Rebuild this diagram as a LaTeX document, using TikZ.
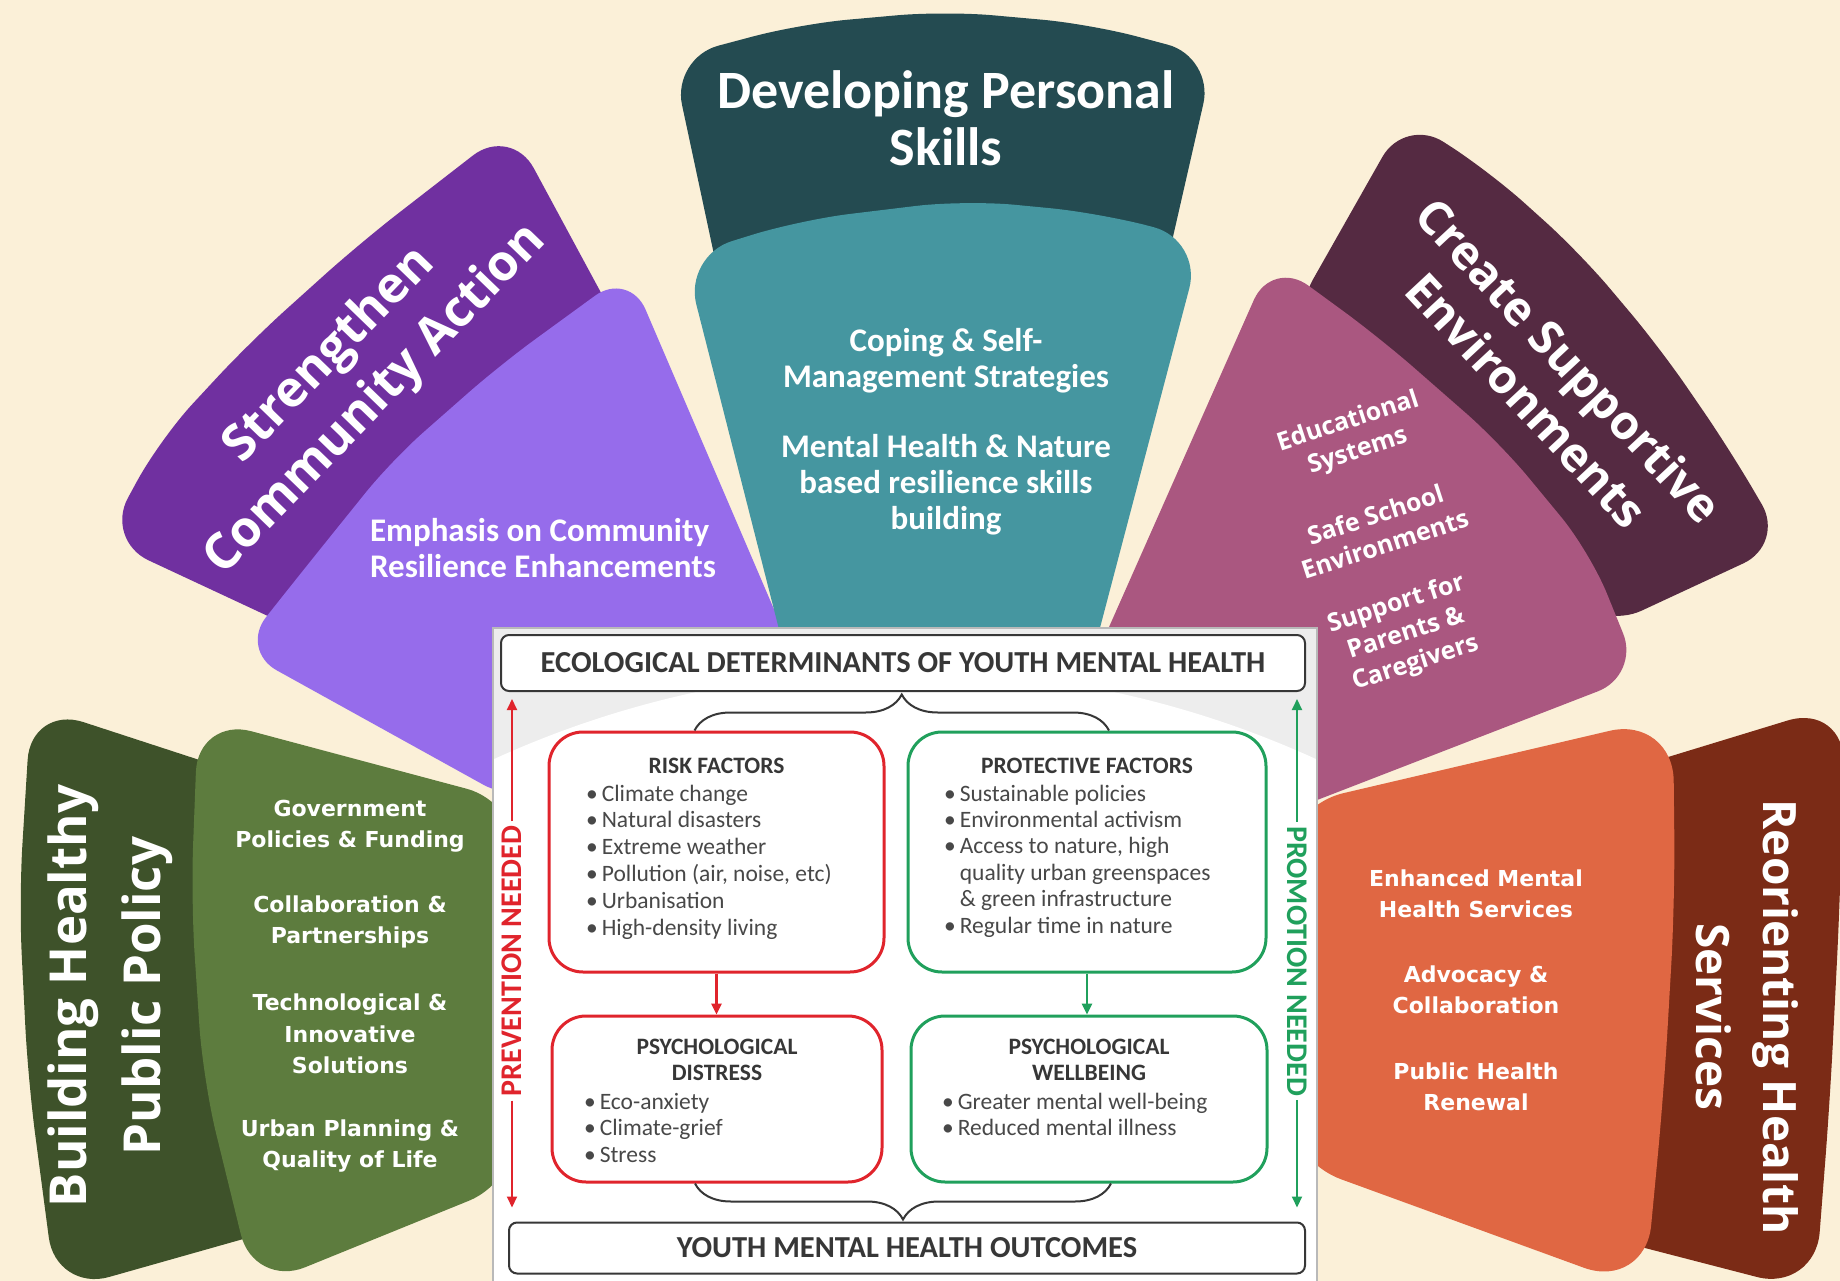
\documentclass[tikz,border=0pt]{standalone}
\usepackage{fontspec}
\setmainfont{Carlito}
\newfontfamily\headfont{Open Sans}
\newfontfamily\verdfont{DejaVu Sans}
\usetikzlibrary{arrows.meta,positioning,decorations.pathreplacing}
\definecolor{paper}{RGB}{251,240,216}
\definecolor{skillsdark}{RGB}{36,75,81}
\definecolor{skillslight}{RGB}{69,150,160}
\definecolor{commdark}{RGB}{112,48,160}
\definecolor{commlight}{RGB}{150,108,235}
\definecolor{envdark}{RGB}{85,42,66}
\definecolor{envlight}{RGB}{170,87,128}
\definecolor{poldark}{RGB}{62,82,42}
\definecolor{pollight}{RGB}{93,124,62}
\definecolor{svcdark}{RGB}{123,43,22}
\definecolor{svclight}{RGB}{224,103,67}
\definecolor{riskred}{RGB}{224,36,44}
\definecolor{protgreen}{RGB}{32,160,92}
\definecolor{inkgray}{RGB}{55,55,55}
\definecolor{listgray}{RGB}{72,72,72}

\begin{document}
\begin{tikzpicture}[x=1pt,y=-1pt,
        headtext/.style={text=white, align=center, inner sep=0pt},
        bodytext/.style={text=white, align=center, inner sep=0pt, font=\bfseries\fontsize{33}{36}\selectfont},
        envtext/.style={text=white, align=center, inner sep=0pt, rotate=18, font=\headfont\bfseries\fontsize{25}{31}\selectfont},
        verdtext/.style={text=white, align=center, inner sep=0pt, font=\verdfont\bfseries\fontsize{22}{31.5}\selectfont},
        framebox/.style={draw=inkgray, line width=2pt, fill=white, rounded corners=8pt, text=inkgray, font=\bfseries\fontsize{30.5}{32}\selectfont},
        riskbox/.style={draw=riskred, line width=3pt, rounded corners=34pt, minimum height=240pt},
        protbox/.style={draw=protgreen, line width=3pt, rounded corners=34pt, minimum height=240pt},
        boxhead/.style={text=inkgray, align=center, font=\bfseries\fontsize{23.5}{26}\selectfont},
        listtext/.style={anchor=base west, inner sep=0pt, text=listgray, font=\fontsize{23.5}{26}\selectfont},
        sidetext/.style={fill=white, inner sep=4pt, font=\bfseries\fontsize{30}{32}\selectfont},
        tip/.style={-{Triangle[length=11pt,width=10pt]}}]
        \clip (0,0) rectangle (1840,1281);
        \fill[paper] (0,0) rectangle (1840,1281);

        % outer petals
        \fill[poldark, rounded corners=55pt] (420,1189) -- (56,1292) -- (28,1080) -- (19,900) -- (31,705) -- (420,832) -- cycle;
        \fill[commdark, rounded corners=48pt] (330,645) -- (105,540) -- (160,439) -- (250,342) -- (360,243) -- (511,126) -- (640,365) -- cycle;
        \fill[skillsdark, rounded corners=48pt] (728,320) -- (672,58) -- (800,24) -- (945,11) -- (1090,24) -- (1214,57) -- (1154,320) -- cycle;
        \fill[envdark, rounded corners=46pt] (1600,630) -- (1785,544) -- (1730,450) -- (1660,348) -- (1580,253) -- (1490,172) -- (1405,117) -- (1290,320) -- cycle;
        \fill[svcdark, rounded corners=60pt] (1560,1226) -- (1815,1292) -- (1830,1100) -- (1840,900) -- (1845,703) -- (1560,790) -- cycle;

        % inner petals
        \fill[pollight, rounded corners=55pt] (520,1180) -- (254,1288) -- (203,1080) -- (191,900) -- (198,717) -- (520,803) -- cycle;
        \fill[commlight, rounded corners=42pt] (800,670) -- (629,271) -- (500,365) -- (392,460) -- (305,568) -- (240,650) -- (520,805) -- cycle;
        \fill[skillslight, rounded corners=50pt] (797,700) -- (684,256) -- (800,220) -- (965,200) -- (1100,213) -- (1202,240) -- (1081,700) -- cycle;
        \fill[envlight, rounded corners=45pt] (1090,670) -- (1272,259) -- (1380,338) -- (1500,443) -- (1590,552) -- (1640,675) -- (1250,826) -- cycle;
        \fill[svclight, rounded corners=65pt] (1280,1157) -- (1645,1290) -- (1664,1090) -- (1675,900) -- (1673,716) -- (1280,808) -- cycle;

        % petal texts
        \node[headtext, font=\bfseries\fontsize{54}{57}\selectfont] (skillshead) at (946,118) {Developing Personal\\Skills};
        \node[bodytext] (skillsa) at (946,361) {Coping \& Self-\\Management Strategies};
        \node[bodytext] (skillsb) at (946,485) {Mental Health \& Nature\\based resilience skills\\building};
        \node[headtext, rotate=46, font=\headfont\bfseries\fontsize{50}{64}\selectfont] (commhead) at (353,378) {Strengthen\\Community Action};
        \node[bodytext, align=left] (comma) at (543,548) {Emphasis on Community\\Resilience Enhancements};
        \node[headtext, rotate=-47, font=\headfont\bfseries\fontsize{47}{58}\selectfont] (envhead) at (1548,380) {Create Supportive\\Environments};
        \node[envtext] (enva) at (1353,437) {Educational\\Systems};
        \node[envtext] (envb) at (1380,529) {Safe School\\Environments};
        \node[envtext] (envc) at (1406,634) {Support for\\Parents \&\\Caregivers};
        \node[headtext, rotate=90, font=\headfont\bfseries\fontsize{51}{74}\selectfont] (polhead) at (110,996) {Building Healthy\\Public Policy};
        \node[verdtext] (pola) at (350,826) {Government\\Policies \& Funding};
        \node[verdtext] (polb) at (350,922) {Collaboration \&\\Partnerships};
        \node[verdtext] (polc) at (350,1034) {Technological \&\\Innovative\\Solutions};
        \node[verdtext] (pold) at (350,1146) {Urban Planning \&\\Quality of Life};
        \node[headtext, rotate=-90, font=\headfont\bfseries\fontsize{46}{67}\selectfont] (svchead) at (1747,1017) {Reorienting Health\\Services};
        \node[verdtext] (svca) at (1476,894) {Enhanced Mental\\Health Services};
        \node[verdtext] (svcb) at (1476,990) {Advocacy \&\\Collaboration};
        \node[verdtext] (svcc) at (1476,1087) {Public Health\\Renewal};

        % centre panel
        \fill[gray!14] (493,628) rectangle (1317,1290);
        \begin{scope}
            \clip (493,628) rectangle (1317,1290);
            \fill[white] (905,1660) circle (990pt);
        \end{scope}
        \draw[gray!55, line width=1.2pt] (493,628) rectangle (1317,1290);

        \node[framebox, minimum width=804pt, minimum height=56pt] (eco) at (903,663) {ECOLOGICAL DETERMINANTS OF YOUTH MENTAL HEALTH};
        \node[framebox, minimum width=796pt, minimum height=51pt] (outcome) at (907,1248) {YOUTH MENTAL HEALTH OUTCOMES};
        \node[riskbox, minimum width=335pt] (risk) at (716.5,852) {};
        \node[protbox, minimum width=358pt] (protect) at (1087,852) {};
        \node[riskbox, minimum width=330pt, minimum height=166pt] (distress) at (717,1099) {};
        \node[protbox, minimum width=356pt, minimum height=166pt] (wellbeing) at (1089,1099) {};

        \node[boxhead] (riskhead) at ([yshift=-35pt]risk.north) {RISK FACTORS};
        \node[boxhead] (prothead) at ([yshift=-35pt]protect.north) {PROTECTIVE FACTORS};
        \node[boxhead] (distresshead) at ([yshift=-45pt]distress.north) {PSYCHOLOGICAL\\DISTRESS};
        \node[boxhead] (wellhead) at ([yshift=-45pt]wellbeing.north) {PSYCHOLOGICAL\\WELLBEING};

        \foreach \t [count=\i] in {Climate change, Natural disasters, Extreme weather, {Pollution (air, noise, etc)}, Urbanisation, High-density living}
            \node[listtext] (risk\i) at (586,{801+26.8*(\i-1)}) {\textbullet\,\t};
        \foreach \b/\t [count=\i] in {1/Sustainable policies, 1/Environmental activism, 1/{Access to nature, high}, 0/quality urban greenspaces, 0/{\& green infrastructure}, 1/Regular time in nature}
            \node[listtext] (prot\i) at (944,{801+26.4*(\i-1)}) {\ifnum\b=1 \textbullet\,\else\phantom{\textbullet\,}\fi\t};
        \foreach \t [count=\i] in {Eco-anxiety, Climate-grief, Stress}
            \node[listtext] (distress\i) at (584,{1109+26.5*(\i-1)}) {\textbullet\,\t};
        \foreach \t [count=\i] in {Greater mental well-being, Reduced mental illness}
            \node[listtext] (well\i) at (942,{1109+26.5*(\i-1)}) {\textbullet\,\t};

        % braces and arrows
        \draw[inkgray, line width=2pt, decorate, decoration={brace, amplitude=36pt}] ([xshift=-22pt]risk.north) -- ([xshift=22pt]protect.north);
        \draw[inkgray, line width=2pt, decorate, decoration={brace, amplitude=36pt}] ([xshift=22pt]wellbeing.south) -- ([xshift=-22pt]distress.south |- wellbeing.south);
        \draw[riskred, line width=2.5pt, tip] (risk.south) -- (risk.south |- distress.north);
        \draw[protgreen, line width=2.5pt, tip] (protect.south) -- (protect.south |- wellbeing.north);

        \node[sidetext, text=riskred, rotate=90] (prevent) at (512,961) {PREVENTION NEEDED};
        \node[sidetext, text=protgreen, rotate=-90] (promote) at (1297,961) {PROMOTION NEEDED};
        \draw[riskred, line width=2pt, tip] (prevent.east) -- ([yshift=-7pt]eco.south -| prevent);
        \draw[riskred, line width=2pt, tip] (prevent.west) -- ([yshift=14pt]outcome.north -| prevent);
        \draw[protgreen, line width=2pt, tip] (promote.west) -- ([yshift=-7pt]eco.south -| promote);
        \draw[protgreen, line width=2pt, tip] (promote.east) -- ([yshift=14pt]outcome.north -| promote);
\end{tikzpicture}
\end{document}
